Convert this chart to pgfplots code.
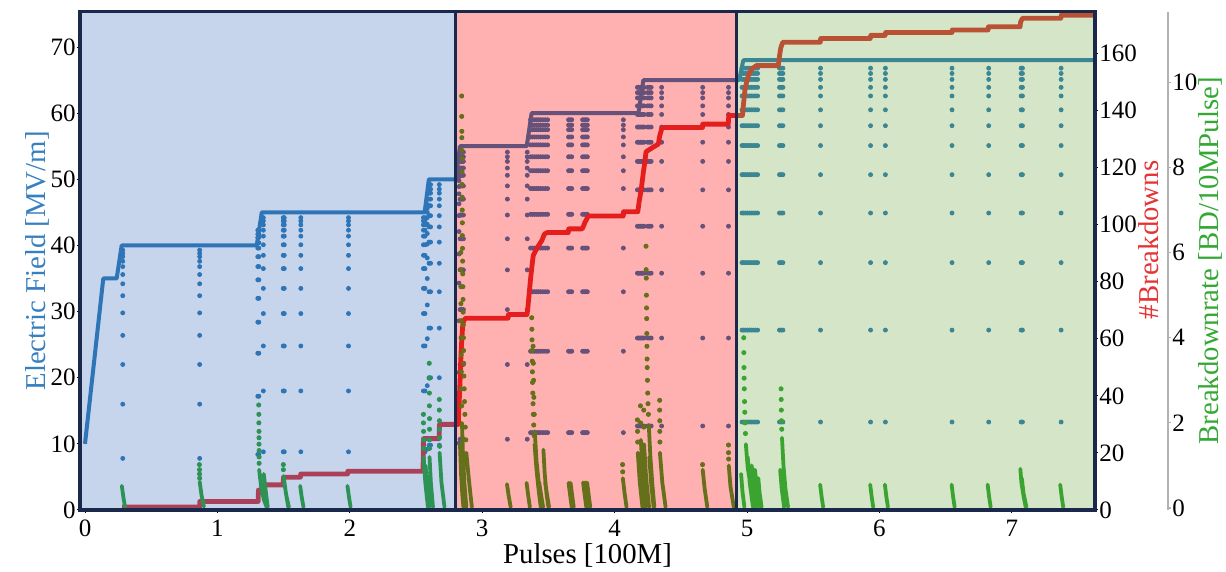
\documentclass[border=0pt]{standalone}
\usepackage{fontspec}
\setmainfont{Liberation Serif}
\usepackage{pgfplots}
\pgfplotsset{compat=1.18}
\definecolor{fieldbase}{RGB}{21,109,172}
\definecolor{bdbase}{RGB}{214,30,30}
\definecolor{ratebase}{RGB}{21,156,24}
\definecolor{ovblue}{RGB}{92,132,201}
\definecolor{ovred}{RGB}{255,29,29}
\definecolor{ovgreen}{RGB}{132,181,98}
\definecolor{navy}{RGB}{25,40,75}
\definecolor{fieldlab}{RGB}{55,128,192}
\definecolor{bdlab}{RGB}{228,52,52}
\definecolor{ratelab}{RGB}{52,168,52}
\pgfplotsset{
  every axis/.append style={
    scale only axis, height=249.15pt,
    /pgf/number format/assume math mode=true,
    tick label style={font=\fontsize{12.5}{14}\selectfont, black},
    label style={font=\fontsize{14.4}{16}\selectfont},
    major tick length=1.5pt,
    yticklabel style={inner sep=0.5pt},
  }
}
\begin{document}
\begin{tikzpicture}
\useasboundingbox (-40pt,-31pt) rectangle (573pt,255pt);
% ---------------- Electric field ----------------
\begin{axis}[
  width=507.5pt,
  xmin=-0.0378, xmax=7.628, ymin=0, ymax=75.34,
  axis line style={draw=none},
  tick pos=left, tick align=outside,
  tick style={black, line width=0.5pt},
  xtick={0,1,...,7}, ytick={0,10,...,70},
  xlabel={Pulses [100M]}, ylabel={Electric Field [MV/m]},
  ylabel style={color=fieldlab, inner sep=0pt},
  xlabel style={inner sep=0pt},
]
\addplot[fieldbase, only marks, mark=*, mark size=1pt] coordinates {
(0.285,7.8)(0.285,16)(0.285,22)(0.285,26.4)(0.285,29.8)(0.285,32.4)(0.285,34.2)(0.285,35.6)(0.285,36.8)(0.285,37.6)(0.285,38.3)(0.285,38.8)(0.285,39.3)
(0.866,7.8)(0.866,16)(0.866,22)(0.866,26.4)(0.866,29.8)(0.866,32.4)(0.866,34.2)(0.866,35.6)(0.866,36.8)(0.866,37.6)(0.866,38.3)(0.866,38.8)(0.866,39.3)
(1.305,8.4)(1.305,17.2)(1.305,23.7)(1.305,28.4)(1.305,32)(1.305,34.8)(1.305,36.8)(1.305,38.3)(1.305,39.6)(1.305,40.4)(1.305,41.2)(1.305,41.7)(1.305,42.3)
(1.313,8.4)(1.313,17.2)(1.313,23.7)(1.313,28.4)(1.313,32)(1.313,34.8)(1.313,36.8)(1.313,38.3)(1.313,39.6)(1.313,40.4)(1.313,41.2)(1.313,41.7)(1.313,42.3)
(1.347,8.8)(1.347,18)(1.347,24.8)(1.347,29.7)(1.347,33.5)(1.347,36.5)(1.347,38.5)(1.347,40.1)(1.347,41.4)(1.347,42.3)(1.347,43.1)(1.347,43.7)(1.347,44.2)
(1.497,8.8)(1.497,18)(1.497,24.8)(1.497,29.7)(1.497,33.5)(1.497,36.5)(1.497,38.5)(1.497,40.1)(1.497,41.4)(1.497,42.3)(1.497,43.1)(1.497,43.7)(1.497,44.2)
(1.505,8.8)(1.505,18)(1.505,24.8)(1.505,29.7)(1.505,33.5)(1.505,36.5)(1.505,38.5)(1.505,40.1)(1.505,41.4)(1.505,42.3)(1.505,43.1)(1.505,43.7)(1.505,44.2)
(1.630,8.8)(1.630,18)(1.630,24.8)(1.630,29.7)(1.630,33.5)(1.630,36.5)(1.630,38.5)(1.630,40.1)(1.630,41.4)(1.630,42.3)(1.630,43.1)(1.630,43.7)(1.630,44.2)
(1.990,8.8)(1.990,18)(1.990,24.8)(1.990,29.7)(1.990,33.5)(1.990,36.5)(1.990,38.5)(1.990,40.1)(1.990,41.4)(1.990,42.3)(1.990,43.1)(1.990,43.7)(1.990,44.2)
(2.556,8.8)(2.556,18)(2.556,24.8)(2.556,29.7)(2.556,33.5)(2.556,36.5)(2.556,38.5)(2.556,40.1)(2.556,41.4)(2.556,42.3)(2.556,43.1)(2.556,43.7)(2.556,44.2)
(2.568,8.8)(2.568,18)(2.568,24.8)(2.568,29.7)(2.568,33.5)(2.568,36.5)(2.568,38.5)(2.568,40.1)(2.568,41.4)(2.568,42.3)(2.568,43.1)(2.568,43.7)(2.568,44.2)
(2.585,9.2)(2.585,18.8)(2.585,25.9)(2.585,31)(2.585,35)(2.585,38.1)(2.585,40.2)(2.585,41.8)(2.585,43.2)(2.585,44.2)(2.585,45)(2.585,45.6)(2.585,46.2)
(2.598,9.8)(2.598,20)(2.598,27.5)(2.598,33)(2.598,37.3)(2.598,40.5)(2.598,42.8)(2.598,44.5)(2.598,46)(2.598,47)(2.598,47.9)(2.598,48.5)(2.598,49.2)
(2.610,9.8)(2.610,20)(2.610,27.5)(2.610,33)(2.610,37.3)(2.610,40.5)(2.610,42.8)(2.610,44.5)(2.610,46)(2.610,47)(2.610,47.9)(2.610,48.5)(2.610,49.2)
(2.676,9.8)(2.676,20)(2.676,27.5)(2.676,33)(2.676,37.3)(2.676,40.5)(2.676,42.8)(2.676,44.5)(2.676,46)(2.676,47)(2.676,47.9)(2.676,48.5)(2.676,49.2)
(2.825,10.1)(2.825,20.8)(2.825,28.6)(2.825,34.3)(2.825,38.7)(2.825,42.1)(2.825,44.5)(2.825,46.3)(2.825,47.8)(2.825,48.9)(2.825,49.8)(2.825,50.4)(2.825,51.1)
(2.833,10.7)(2.833,22)(2.833,30.3)(2.833,36.3)(2.833,41)(2.833,44.6)(2.833,47)(2.833,49)(2.833,50.6)(2.833,51.7)(2.833,52.7)(2.833,53.4)(2.833,54.1)
(2.840,10.7)(2.840,22)(2.840,30.3)(2.840,36.3)(2.840,41)(2.840,44.6)(2.840,47)(2.840,49)(2.840,50.6)(2.840,51.7)(2.840,52.7)(2.840,53.4)(2.840,54.1)
(2.848,10.7)(2.848,22)(2.848,30.3)(2.848,36.3)(2.848,41)(2.848,44.6)(2.848,47)(2.848,49)(2.848,50.6)(2.848,51.7)(2.848,52.7)(2.848,53.4)(2.848,54.1)
(2.858,10.7)(2.858,22)(2.858,30.3)(2.858,36.3)(2.858,41)(2.858,44.6)(2.858,47)(2.858,49)(2.858,50.6)(2.858,51.7)(2.858,52.7)(2.858,53.4)(2.858,54.1)
(3.190,10.7)(3.190,22)(3.190,30.3)(3.190,36.3)(3.190,41)(3.190,44.6)(3.190,47)(3.190,49)(3.190,50.6)(3.190,51.7)(3.190,52.7)(3.190,53.4)(3.190,54.1)
(3.340,10.7)(3.340,22)(3.340,30.3)(3.340,36.3)(3.340,41)(3.340,44.6)(3.340,47)(3.340,49)(3.340,50.6)(3.340,51.7)(3.340,52.7)(3.340,53.4)(3.340,54.1)
(3.365,11.7)(3.365,24)(3.365,33)(3.365,39.6)(3.365,44.7)(3.365,48.6)(3.365,51.3)(3.365,53.4)(3.365,55.2)(3.365,56.4)(3.365,57.5)(3.365,58.2)(3.365,59)
(3.380,11.7)(3.380,24)(3.380,33)(3.380,39.6)(3.380,44.7)(3.380,48.6)(3.380,51.3)(3.380,53.4)(3.380,55.2)(3.380,56.4)(3.380,57.5)(3.380,58.2)(3.380,59)
(3.395,11.7)(3.395,24)(3.395,33)(3.395,39.6)(3.395,44.7)(3.395,48.6)(3.395,51.3)(3.395,53.4)(3.395,55.2)(3.395,56.4)(3.395,57.5)(3.395,58.2)(3.395,59)
(3.410,11.7)(3.410,24)(3.410,33)(3.410,39.6)(3.410,44.7)(3.410,48.6)(3.410,51.3)(3.410,53.4)(3.410,55.2)(3.410,56.4)(3.410,57.5)(3.410,58.2)(3.410,59)
(3.425,11.7)(3.425,24)(3.425,33)(3.425,39.6)(3.425,44.7)(3.425,48.6)(3.425,51.3)(3.425,53.4)(3.425,55.2)(3.425,56.4)(3.425,57.5)(3.425,58.2)(3.425,59)
(3.440,11.7)(3.440,24)(3.440,33)(3.440,39.6)(3.440,44.7)(3.440,48.6)(3.440,51.3)(3.440,53.4)(3.440,55.2)(3.440,56.4)(3.440,57.5)(3.440,58.2)(3.440,59)
(3.458,11.7)(3.458,24)(3.458,33)(3.458,39.6)(3.458,44.7)(3.458,48.6)(3.458,51.3)(3.458,53.4)(3.458,55.2)(3.458,56.4)(3.458,57.5)(3.458,58.2)(3.458,59)
(3.476,11.7)(3.476,24)(3.476,33)(3.476,39.6)(3.476,44.7)(3.476,48.6)(3.476,51.3)(3.476,53.4)(3.476,55.2)(3.476,56.4)(3.476,57.5)(3.476,58.2)(3.476,59)
(3.494,11.7)(3.494,24)(3.494,33)(3.494,39.6)(3.494,44.7)(3.494,48.6)(3.494,51.3)(3.494,53.4)(3.494,55.2)(3.494,56.4)(3.494,57.5)(3.494,58.2)(3.494,59)
(3.652,11.7)(3.652,24)(3.652,33)(3.652,39.6)(3.652,44.7)(3.652,48.6)(3.652,51.3)(3.652,53.4)(3.652,55.2)(3.652,56.4)(3.652,57.5)(3.652,58.2)(3.652,59)
(3.664,11.7)(3.664,24)(3.664,33)(3.664,39.6)(3.664,44.7)(3.664,48.6)(3.664,51.3)(3.664,53.4)(3.664,55.2)(3.664,56.4)(3.664,57.5)(3.664,58.2)(3.664,59)
(3.676,11.7)(3.676,24)(3.676,33)(3.676,39.6)(3.676,44.7)(3.676,48.6)(3.676,51.3)(3.676,53.4)(3.676,55.2)(3.676,56.4)(3.676,57.5)(3.676,58.2)(3.676,59)
(3.758,11.7)(3.758,24)(3.758,33)(3.758,39.6)(3.758,44.7)(3.758,48.6)(3.758,51.3)(3.758,53.4)(3.758,55.2)(3.758,56.4)(3.758,57.5)(3.758,58.2)(3.758,59)
(3.770,11.7)(3.770,24)(3.770,33)(3.770,39.6)(3.770,44.7)(3.770,48.6)(3.770,51.3)(3.770,53.4)(3.770,55.2)(3.770,56.4)(3.770,57.5)(3.770,58.2)(3.770,59)
(3.782,11.7)(3.782,24)(3.782,33)(3.782,39.6)(3.782,44.7)(3.782,48.6)(3.782,51.3)(3.782,53.4)(3.782,55.2)(3.782,56.4)(3.782,57.5)(3.782,58.2)(3.782,59)
(3.794,11.7)(3.794,24)(3.794,33)(3.794,39.6)(3.794,44.7)(3.794,48.6)(3.794,51.3)(3.794,53.4)(3.794,55.2)(3.794,56.4)(3.794,57.5)(3.794,58.2)(3.794,59)
(4.066,11.7)(4.066,24)(4.066,33)(4.066,39.6)(4.066,44.7)(4.066,48.6)(4.066,51.3)(4.066,53.4)(4.066,55.2)(4.066,56.4)(4.066,57.5)(4.066,58.2)(4.066,59)
(4.172,12.7)(4.172,26)(4.172,35.8)(4.172,42.9)(4.172,48.4)(4.172,52.7)(4.172,55.6)(4.172,57.9)(4.172,59.8)(4.172,61.1)(4.172,62.3)(4.172,63.1)(4.172,63.9)
(4.182,12.7)(4.182,26)(4.182,35.8)(4.182,42.9)(4.182,48.4)(4.182,52.7)(4.182,55.6)(4.182,57.9)(4.182,59.8)(4.182,61.1)(4.182,62.3)(4.182,63.1)(4.182,63.9)
(4.192,12.7)(4.192,26)(4.192,35.8)(4.192,42.9)(4.192,48.4)(4.192,52.7)(4.192,55.6)(4.192,57.9)(4.192,59.8)(4.192,61.1)(4.192,62.3)(4.192,63.1)(4.192,63.9)
(4.202,12.7)(4.202,26)(4.202,35.8)(4.202,42.9)(4.202,48.4)(4.202,52.7)(4.202,55.6)(4.202,57.9)(4.202,59.8)(4.202,61.1)(4.202,62.3)(4.202,63.1)(4.202,63.9)
(4.212,12.7)(4.212,26)(4.212,35.8)(4.212,42.9)(4.212,48.4)(4.212,52.7)(4.212,55.6)(4.212,57.9)(4.212,59.8)(4.212,61.1)(4.212,62.3)(4.212,63.1)(4.212,63.9)
(4.222,12.7)(4.222,26)(4.222,35.8)(4.222,42.9)(4.222,48.4)(4.222,52.7)(4.222,55.6)(4.222,57.9)(4.222,59.8)(4.222,61.1)(4.222,62.3)(4.222,63.1)(4.222,63.9)
(4.250,12.7)(4.250,26)(4.250,35.8)(4.250,42.9)(4.250,48.4)(4.250,52.7)(4.250,55.6)(4.250,57.9)(4.250,59.8)(4.250,61.1)(4.250,62.3)(4.250,63.1)(4.250,63.9)
(4.262,12.7)(4.262,26)(4.262,35.8)(4.262,42.9)(4.262,48.4)(4.262,52.7)(4.262,55.6)(4.262,57.9)(4.262,59.8)(4.262,61.1)(4.262,62.3)(4.262,63.1)(4.262,63.9)
(4.276,12.7)(4.276,26)(4.276,35.8)(4.276,42.9)(4.276,48.4)(4.276,52.7)(4.276,55.6)(4.276,57.9)(4.276,59.8)(4.276,61.1)(4.276,62.3)(4.276,63.1)(4.276,63.9)
(4.355,12.7)(4.355,26)(4.355,35.8)(4.355,42.9)(4.355,48.4)(4.355,52.7)(4.355,55.6)(4.355,57.9)(4.355,59.8)(4.355,61.1)(4.355,62.3)(4.355,63.1)(4.355,63.9)
(4.665,12.7)(4.665,26)(4.665,35.8)(4.665,42.9)(4.665,48.4)(4.665,52.7)(4.665,55.6)(4.665,57.9)(4.665,59.8)(4.665,61.1)(4.665,62.3)(4.665,63.1)(4.665,63.9)
(4.860,12.7)(4.860,26)(4.860,35.8)(4.860,42.9)(4.860,48.4)(4.860,52.7)(4.860,55.6)(4.860,57.9)(4.860,59.8)(4.860,61.1)(4.860,62.3)(4.860,63.1)(4.860,63.9)
(4.962,13.3)(4.962,27.2)(4.962,37.4)(4.962,44.9)(4.962,50.7)(4.962,55.1)(4.962,58.1)(4.962,60.5)(4.962,62.6)(4.962,63.9)(4.962,65.1)(4.962,66)(4.962,66.8)
(4.975,13.3)(4.975,27.2)(4.975,37.4)(4.975,44.9)(4.975,50.7)(4.975,55.1)(4.975,58.1)(4.975,60.5)(4.975,62.6)(4.975,63.9)(4.975,65.1)(4.975,66)(4.975,66.8)
(4.990,13.3)(4.990,27.2)(4.990,37.4)(4.990,44.9)(4.990,50.7)(4.990,55.1)(4.990,58.1)(4.990,60.5)(4.990,62.6)(4.990,63.9)(4.990,65.1)(4.990,66)(4.990,66.8)
(5.005,13.3)(5.005,27.2)(5.005,37.4)(5.005,44.9)(5.005,50.7)(5.005,55.1)(5.005,58.1)(5.005,60.5)(5.005,62.6)(5.005,63.9)(5.005,65.1)(5.005,66)(5.005,66.8)
(5.020,13.3)(5.020,27.2)(5.020,37.4)(5.020,44.9)(5.020,50.7)(5.020,55.1)(5.020,58.1)(5.020,60.5)(5.020,62.6)(5.020,63.9)(5.020,65.1)(5.020,66)(5.020,66.8)
(5.035,13.3)(5.035,27.2)(5.035,37.4)(5.035,44.9)(5.035,50.7)(5.035,55.1)(5.035,58.1)(5.035,60.5)(5.035,62.6)(5.035,63.9)(5.035,65.1)(5.035,66)(5.035,66.8)
(5.050,13.3)(5.050,27.2)(5.050,37.4)(5.050,44.9)(5.050,50.7)(5.050,55.1)(5.050,58.1)(5.050,60.5)(5.050,62.6)(5.050,63.9)(5.050,65.1)(5.050,66)(5.050,66.8)
(5.065,13.3)(5.065,27.2)(5.065,37.4)(5.065,44.9)(5.065,50.7)(5.065,55.1)(5.065,58.1)(5.065,60.5)(5.065,62.6)(5.065,63.9)(5.065,65.1)(5.065,66)(5.065,66.8)
(5.080,13.3)(5.080,27.2)(5.080,37.4)(5.080,44.9)(5.080,50.7)(5.080,55.1)(5.080,58.1)(5.080,60.5)(5.080,62.6)(5.080,63.9)(5.080,65.1)(5.080,66)(5.080,66.8)
(5.245,13.3)(5.245,27.2)(5.245,37.4)(5.245,44.9)(5.245,50.7)(5.245,55.1)(5.245,58.1)(5.245,60.5)(5.245,62.6)(5.245,63.9)(5.245,65.1)(5.245,66)(5.245,66.8)
(5.258,13.3)(5.258,27.2)(5.258,37.4)(5.258,44.9)(5.258,50.7)(5.258,55.1)(5.258,58.1)(5.258,60.5)(5.258,62.6)(5.258,63.9)(5.258,65.1)(5.258,66)(5.258,66.8)
(5.271,13.3)(5.271,27.2)(5.271,37.4)(5.271,44.9)(5.271,50.7)(5.271,55.1)(5.271,58.1)(5.271,60.5)(5.271,62.6)(5.271,63.9)(5.271,65.1)(5.271,66)(5.271,66.8)
(5.555,13.3)(5.555,27.2)(5.555,37.4)(5.555,44.9)(5.555,50.7)(5.555,55.1)(5.555,58.1)(5.555,60.5)(5.555,62.6)(5.555,63.9)(5.555,65.1)(5.555,66)(5.555,66.8)
(5.933,13.3)(5.933,27.2)(5.933,37.4)(5.933,44.9)(5.933,50.7)(5.933,55.1)(5.933,58.1)(5.933,60.5)(5.933,62.6)(5.933,63.9)(5.933,65.1)(5.933,66)(5.933,66.8)
(6.045,13.3)(6.045,27.2)(6.045,37.4)(6.045,44.9)(6.045,50.7)(6.045,55.1)(6.045,58.1)(6.045,60.5)(6.045,62.6)(6.045,63.9)(6.045,65.1)(6.045,66)(6.045,66.8)
(6.548,13.3)(6.548,27.2)(6.548,37.4)(6.548,44.9)(6.548,50.7)(6.548,55.1)(6.548,58.1)(6.548,60.5)(6.548,62.6)(6.548,63.9)(6.548,65.1)(6.548,66)(6.548,66.8)
(6.825,13.3)(6.825,27.2)(6.825,37.4)(6.825,44.9)(6.825,50.7)(6.825,55.1)(6.825,58.1)(6.825,60.5)(6.825,62.6)(6.825,63.9)(6.825,65.1)(6.825,66)(6.825,66.8)
(7.070,13.3)(7.070,27.2)(7.070,37.4)(7.070,44.9)(7.070,50.7)(7.070,55.1)(7.070,58.1)(7.070,60.5)(7.070,62.6)(7.070,63.9)(7.070,65.1)(7.070,66)(7.070,66.8)
(7.080,13.3)(7.080,27.2)(7.080,37.4)(7.080,44.9)(7.080,50.7)(7.080,55.1)(7.080,58.1)(7.080,60.5)(7.080,62.6)(7.080,63.9)(7.080,65.1)(7.080,66)(7.080,66.8)
(7.372,13.3)(7.372,27.2)(7.372,37.4)(7.372,44.9)(7.372,50.7)(7.372,55.1)(7.372,58.1)(7.372,60.5)(7.372,62.6)(7.372,63.9)(7.372,65.1)(7.372,66)(7.372,66.8)
};
\addplot[fieldbase, line width=2pt, line join=round] coordinates {
(0,10)(0.138,35)(0.239,35)(0.277,40)(1.297,40)(1.335,45)(2.565,45)(2.597,50)(2.80,50)
(2.832,55)(3.336,55)(3.373,60)(4.18,60)(4.217,65)(4.94,65)(4.972,68)(7.628,68)
};
\end{axis}
% ---------------- Breakdowns ----------------
\begin{axis}[
  width=507.5pt,
  xmin=-0.0378, xmax=7.628, ymin=0, ymax=174.6,
  axis x line=none, axis y line*=right, axis line style={draw=none},
  tick align=outside, ytick style={black, line width=0.5pt},
  ytick={0,20,...,160},
  ylabel={\#Breakdowns},
  ylabel style={color=bdlab, inner sep=0pt, at={(ticklabel cs:0.542)}},
]
\addplot[bdbase, line width=2.4pt, line join=round] coordinates {
(0.28,1)(0.866,1)(0.866,3)(1.308,3)(1.31,7)(1.343,7)(1.345,8.8)(1.497,8.8)(1.499,11.5)(1.627,11.5)(1.629,12.6)(1.983,12.6)(1.985,13.6)(2.553,13.6)(2.556,25)(2.674,25)(2.677,30)(2.80,30)
(2.82,30)(2.822,34)(2.828,40)(2.835,48)(2.84,55)(2.846,60)(2.853,65)(2.862,66.5)(2.875,67.2)(3.195,67.2)(3.198,68.5)(3.338,68.5)(3.345,71)(3.355,76)(3.365,81)(3.373,84.4)(3.385,89.1)(3.41,91.5)(3.45,94.4)(3.47,96.7)(3.49,97.2)(3.65,97.2)(3.653,98.5)(3.755,98.5)(3.765,99.5)(3.776,100.8)(3.79,102)(3.80,103)(4.064,103)(4.067,104.5)(4.175,104.5)(4.185,108)(4.20,112)(4.216,118)(4.228,122)(4.237,125.5)(4.26,126.2)(4.29,127.1)(4.33,128.2)(4.34,131)(4.355,133.5)(4.37,134)(4.662,134)(4.665,135.2)(4.858,135.2)(4.862,138.2)
(4.965,138.2)(4.972,141.7)(4.985,147.5)(5.0,150.5)(5.01,152.2)(5.035,154.5)(5.07,155.7)(5.236,155.7)(5.245,159)(5.255,162)(5.27,163.9)(5.553,163.9)(5.556,165.2)(5.931,165.2)(5.934,166.3)(6.043,166.3)(6.046,167.3)(6.547,167.3)(6.55,168.2)(6.82,168.2)(6.823,169.3)(7.062,169.3)(7.066,171)(7.08,172.3)(7.37,172.3)(7.373,173.4)(7.628,173.4)
};
\end{axis}
% ---------------- Breakdown rate ----------------
\begin{axis}[
  width=544pt,
  xmin=-0.0378, xmax=8.1794, ymin=-0.047, ymax=11.66,
  axis x line=none, axis y line*=right,
  y axis line style={draw=black!30, line width=0.8pt},
  tick align=outside, ytick style={black!30, line width=0.6pt},
  ytick={0,2,...,10},
  ylabel={Breakdownrate [BD/10MPulse]},
  ylabel style={color=ratelab, inner sep=0pt},
  unbounded coords=jump,
]
\addplot[ratebase, line width=1.9pt, line cap=round] coordinates {
(0.278,0.52)(0.29,0.25)(0.302,0.03)(0,nan)
(0.866,0.62)(0.88,0.3)(0.898,0.03)(0,nan)
(1.315,0.9)(1.33,0.5)(1.35,0.2)(1.372,0.02)(0,nan)
(1.35,0.8)(1.365,0.4)(1.38,0.02)(0,nan)
(1.5,0.75)(1.515,0.4)(1.535,0.02)(0,nan)
(1.505,0.6)(1.52,0.3)(1.54,0.02)(0,nan)
(1.625,0.52)(1.637,0.25)(1.65,0.02)(0,nan)
(1.982,0.52)(1.994,0.25)(2.006,0.02)(0,nan)
(2.557,1.2)(2.57,0.6)(2.59,0.02)(0,nan)
(2.572,1.0)(2.585,0.5)(2.6,0.02)(0,nan)
(2.602,1.2)(2.612,0.6)(2.628,0.02)(0,nan)
(2.678,1.3)(2.692,0.6)(2.715,0.02)(0,nan)
(2.88,1.3)(2.895,0.8)(2.91,0.35)(2.922,0.02)(0,nan)
(2.847,2.0)(2.855,1.2)(2.865,0.6)(2.88,0.02)(0,nan)
(2.832,1.5)(2.84,0.8)(2.85,0.3)(2.858,0.02)(0,nan)
(3.187,0.56)(3.2,0.28)(3.215,0.02)(0,nan)
(3.335,0.59)(3.347,0.3)(3.36,0.02)(0,nan)
(3.395,1.5)(3.41,0.9)(3.425,0.45)(3.442,0.02)(0,nan)
(3.397,1.8)(3.41,1.1)(3.43,0.5)(3.45,0.02)(0,nan)
(3.462,1.37)(3.472,0.8)(3.485,0.35)(3.5,0.02)(0,nan)
(3.43,0.6)(3.445,0.3)(3.46,0.02)(0,nan)
(3.475,0.6)(3.49,0.3)(3.505,0.02)(0,nan)
(3.652,0.59)(3.664,0.3)(3.676,0.02)(0,nan)
(3.667,0.59)(3.679,0.3)(3.691,0.02)(0,nan)
(3.762,0.6)(3.774,0.3)(3.786,0.02)(0,nan)
(3.777,0.6)(3.789,0.3)(3.801,0.02)(0,nan)
(3.792,0.6)(3.804,0.3)(3.816,0.02)(0,nan)
(4.062,0.7)(4.075,0.35)(4.09,0.02)(0,nan)
(4.258,1.95)(4.27,1.2)(4.285,0.55)(4.3,0.02)(0,nan)
(4.175,1.3)(4.19,0.6)(4.21,0.02)(0,nan)
(4.198,1.6)(4.212,0.8)(4.232,0.02)(0,nan)
(4.222,1.5)(4.238,0.7)(4.26,0.02)(0,nan)
(4.262,1.2)(4.275,0.6)(4.295,0.02)(0,nan)
(4.342,1.3)(4.36,0.6)(4.385,0.02)(0,nan)
(4.665,0.9)(4.68,0.45)(4.7,0.02)(0,nan)
(4.862,1.0)(4.875,0.5)(4.9,0.02)(0,nan)
(4.991,1.5)(5.005,0.95)(5.03,0.45)(5.06,0.02)(0,nan)
(4.955,0.8)(4.965,0.4)(4.98,0.02)(0,nan)
(5.005,1.2)(5.02,0.6)(5.045,0.02)(0,nan)
(5.035,1.0)(5.05,0.5)(5.075,0.02)(0,nan)
(5.06,0.9)(5.075,0.45)(5.1,0.02)(0,nan)
(5.085,0.7)(5.095,0.35)(5.11,0.02)(0,nan)
(5.264,1.65)(5.275,1.0)(5.29,0.45)(5.31,0.02)(0,nan)
(5.25,0.9)(5.262,0.45)(5.28,0.02)(0,nan)
(5.552,0.55)(5.563,0.27)(5.575,0.02)(0,nan)
(5.93,0.55)(5.941,0.27)(5.953,0.02)(0,nan)
(6.041,0.55)(6.052,0.27)(6.064,0.02)(0,nan)
(6.545,0.55)(6.556,0.27)(6.568,0.02)(0,nan)
(6.817,0.55)(6.828,0.27)(6.84,0.02)(0,nan)
(7.064,0.92)(7.072,0.6)(7.09,0.25)(7.105,0.02)(0,nan)
(7.075,0.7)(7.088,0.35)(7.11,0.02)(0,nan)
(7.365,0.55)(7.376,0.27)(7.388,0.02)
};
\addplot[ratebase, only marks, mark=*, mark size=1.05pt] coordinates {
(0.864,1.02)(0.865,0.9)(0.865,0.8)(0.866,0.7)
(1.312,2.42)(1.313,2.2)(1.313,2.0)(1.314,1.8)(1.314,1.65)(1.314,1.5)(1.315,1.35)(1.315,1.2)(1.315,1.05)
(1.498,1.02)(1.498,0.9)
(2.556,2.2)(2.556,2.0)(2.557,1.8)(2.557,1.6)(2.557,1.4)
(2.600,3.4)(2.600,3.05)(2.601,2.7)(2.601,2.4)(2.602,2.1)(2.602,1.85)(2.602,1.6)(2.602,1.4)
(2.676,2.55)(2.676,2.3)(2.677,2.05)(2.677,1.85)(2.677,1.65)(2.678,1.45)
(2.845,9.68)(2.845,9.2)(2.846,8.85)(2.846,8.7)(2.847,8.4)(2.847,8.2)(2.848,7.9)(2.848,7.6)(2.849,7.3)(2.849,7.0)(2.85,6.7)(2.85,6.4)(2.851,6.1)(2.852,5.8)(2.853,5.5)(2.854,5.2)(2.855,4.9)(2.856,4.6)(2.857,4.3)(2.858,4.0)(2.859,3.7)(2.86,3.4)(2.862,3.1)(2.864,2.8)(2.866,2.5)(2.869,2.2)(2.872,1.9)(2.876,1.6)
(2.838,6.0)(2.838,5.6)(2.839,5.2)(2.839,4.8)(2.84,4.4)(2.84,4.0)(2.841,3.6)(2.842,3.2)(2.843,2.8)(2.845,2.4)
(3.374,4.47)(3.375,4.2)(3.376,3.95)(3.377,3.7)(3.378,3.45)(3.379,3.2)(3.38,2.95)(3.382,2.7)(3.384,2.45)(3.386,2.2)(3.389,1.95)(3.392,1.7)
(3.384,3.8)(3.386,3.4)(3.388,3.0)(3.39,2.6)(3.393,2.2)
(4.06,1.02)(4.061,0.85)
(4.237,6.15)(4.238,5.6)(4.239,5.4)(4.24,5.0)(4.241,4.7)(4.242,4.45)(4.243,4.1)(4.244,3.8)(4.245,3.5)(4.246,3.3)(4.248,3.0)(4.25,2.7)(4.252,2.45)(4.255,2.2)
(4.172,2.07)(4.173,1.8)(4.174,1.55)
(4.195,2.4)(4.196,2.0)
(4.22,2.3)(4.221,1.9)
(4.34,2.53)(4.34,2.3)(4.341,2.05)(4.341,1.8)(4.342,1.55)
(4.664,1.02)
(4.86,1.48)(4.86,1.3)(4.861,1.15)
(4.975,4.0)(4.976,3.65)(4.977,3.3)(4.978,3.05)(4.979,2.8)(4.981,2.5)(4.983,2.25)(4.985,2.0)(4.988,1.75)
(5.257,2.8)(5.258,2.55)(5.259,2.3)(5.26,2.05)(5.262,1.85)
};
\end{axis}
% ---------------- Background regions and frame ----------------
\begin{axis}[
  width=507.5pt,
  xmin=-0.0378, xmax=7.628, ymin=0, ymax=1,
  ticks=none, axis on top,
  axis line style={draw=navy, line width=1.6pt},
]
\addplot[draw=none, fill=ovblue, fill opacity=0.35] coordinates {(-0.0378,1)(2.80,1)} \closedcycle;
\addplot[draw=none, fill=ovred, fill opacity=0.35] coordinates {(2.80,1)(4.92,1)} \closedcycle;
\addplot[draw=none, fill=ovgreen, fill opacity=0.35] coordinates {(4.92,1)(7.628,1)} \closedcycle;
\addplot[navy, line width=1.5pt] coordinates {(2.80,0)(2.80,1)};
\addplot[navy, line width=1.5pt] coordinates {(4.92,0)(4.92,1)};
\end{axis}
\end{tikzpicture}
\end{document}
